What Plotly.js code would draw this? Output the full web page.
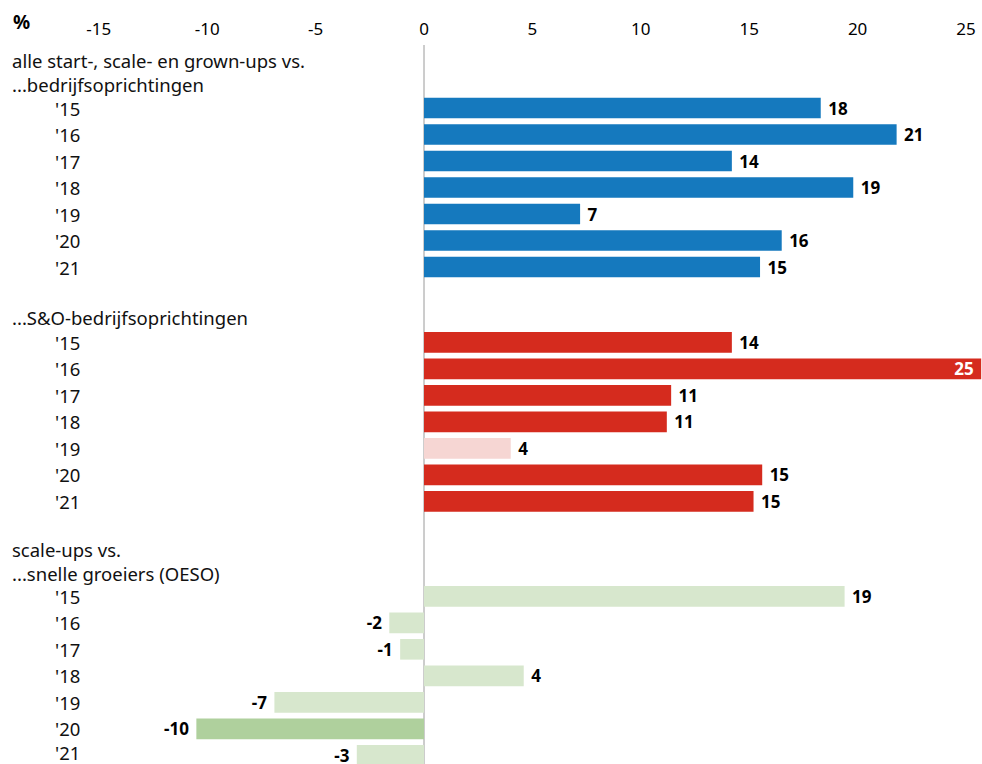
<!DOCTYPE html>
<html><head><meta charset="utf-8">
<script src="https://cdn.plot.ly/plotly-3.0.1.min.js"></script>
<style>html,body{margin:0;padding:0;background:#fff}#chart{width:982px;height:764px}</style>
</head><body><div id="chart"></div>
<script>
// ---- data ----
const years = ["'15","'16","'17","'18","'19","'20","'21"];
const xTicks = [-15, -10, -5, 0, 5, 10, 15, 20, 25];
const header1 = ["alle start-, scale- en grown-ups vs.", "...bedrijfsoprichtingen"];
const header2 = ["...S&O-bedrijfsoprichtingen"];
const header3 = ["scale-ups vs.", "...snelle groeiers (OESO)"];
const startupValues = [18.3, 21.8, 14.2, 19.8, 7.2, 16.5, 15.5];
const startupLabels = ["18", "21", "14", "19", "7", "16", "15"];
const rdValues = [14.2, 25.7, 11.4, 11.2, 4.0, 15.6, 15.2];
const rdLabels = ["14", "25", "11", "11", "4", "15", "15"];
const scaleupValues = [19.4, -1.6, -1.1, 4.6, -6.9, -10.5, -3.1];
const scaleupLabels = ["19", "-2", "-1", "4", "-7", "-10", "-3"];

// ---- style / layout ----
const FONT = "Noto Sans, Open Sans, sans-serif";
const W = 982, H = 764, TOP = 45;
const PX_PER_UNIT = 21.68, ZERO_PX = 424;
const rowH = 26.5;
const firstRowPx = [108, 342.3, 596.3];
const BLUE = "#1579be", RED = "#d52b1e", PINK = "#f6d6d3", LGREEN = "#d7e7cd", DGREEN = "#afd09d";

const plotH = H - TOP;
const py2paper = p => 1 - (p - TOP) / plotH;
const px2paper = p => p / W;

function padLabel(l, v) {
  if (v > 25) return l + "\u00a0";
  return v < 0 ? l + "\u00a0" : "\u00a0" + l;
}

function domainFor(g) {
  const top = firstRowPx[g] - rowH / 2;
  let bottom = firstRowPx[g] + 6 * rowH + rowH / 2;
  let lo = 6.5;
  if (bottom > H) { lo = 6 + (H - firstRowPx[g] - 6 * rowH) / rowH; bottom = H; }
  return { domain: [py2paper(bottom), py2paper(top)], range: [lo, -0.5] };
}

const groups = [
  { values: startupValues, labels: startupLabels, colors: years.map(() => BLUE), axis: "y" },
  { values: rdValues, labels: rdLabels, colors: years.map((_, i) => i === 4 ? PINK : RED), axis: "y2" },
  { values: scaleupValues, labels: scaleupLabels, colors: years.map((_, i) => i === 5 ? DGREEN : LGREEN), axis: "y3" }
];

const traces = groups.map(g => ({
  type: "bar", orientation: "h",
  x: g.values, y: years,
  xaxis: "x", yaxis: g.axis,
  marker: { color: g.colors, line: { width: 0 } },
  text: g.labels.map((l, i) => padLabel(l, g.values[i])),
  textposition: g.values.map(v => v > 25 ? "inside" : "outside"),
  insidetextanchor: "end",
  insidetextfont: { family: FONT, size: 17, color: "#ffffff", weight: 700 },
  outsidetextfont: { family: FONT, size: 17, color: "#000000", weight: 700 },
  constraintext: "none",
  cliponaxis: false,
  hoverinfo: "skip"
}));

const layout = {
  width: W, height: H,
  margin: { l: 0, r: 0, t: TOP, b: 0 },
  paper_bgcolor: "#ffffff", plot_bgcolor: "#ffffff",
  showlegend: false,
  bargap: 0.22,
  font: { family: FONT, color: "#000" },
  xaxis: {
    range: [-ZERO_PX / PX_PER_UNIT, (W - ZERO_PX) / PX_PER_UNIT],
    side: "top", anchor: "free", position: 1,
    tickvals: xTicks, ticktext: xTicks.map(String),
    tickfont: { family: FONT, size: 17, color: "#000" },
    ticks: "", showgrid: false, zeroline: false, showline: false,
    ticklabelstandoff: 7, fixedrange: true
  },
  shapes: [{ type: "line", xref: "x", yref: "paper", x0: 0, x1: 0, y0: 0, y1: 1, line: { color: "#9a9a9a", width: 1 }, layer: "below" }],
  annotations: []
};

["yaxis", "yaxis2", "yaxis3"].forEach((name, g) => {
  const d = domainFor(g);
  layout[name] = {
    domain: d.domain, range: d.range, type: "category", categoryarray: years,
    anchor: "x", showticklabels: false, showgrid: false, zeroline: false, showline: false, ticks: "", fixedrange: true
  };
});

// % label
layout.annotations.push({ text: "<b>%</b>", xref: "paper", yref: "paper", x: px2paper(11), y: py2paper(22), xanchor: "left", yanchor: "middle", showarrow: false, font: { family: FONT, size: 19, color: "#000" } });

// group headers and year labels
const headerMidPx = [72.5, 317, 561];
[header1, header2, header3].forEach((lines, g) => {
  layout.annotations.push({ text: lines.join("<br>"), align: "left", xref: "paper", yref: "paper", x: px2paper(10), y: py2paper(headerMidPx[g]), xanchor: "left", yanchor: "middle", showarrow: false, font: { family: FONT, size: 18.5, color: "#111" } });
  years.forEach((yr, i) => {
    layout.annotations.push({ text: yr, xref: "paper", yref: groups[g].axis, x: px2paper(53), y: i, xanchor: "left", yanchor: "middle", yshift: (g === 2 && i === 6) ? 3 : 0, showarrow: false, font: { family: FONT, size: 18.5, color: "#111" } });
  });
});

Plotly.newPlot("chart", traces, layout, { staticPlot: true, displayModeBar: false });
</script>
</body></html>
